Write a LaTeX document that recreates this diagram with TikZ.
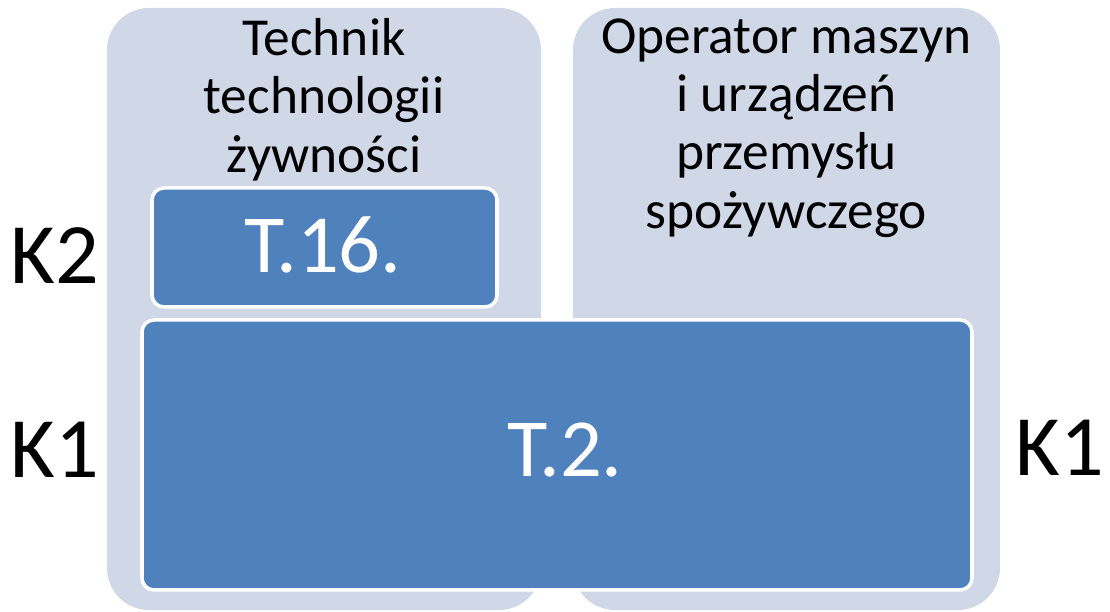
\documentclass[tikz,border=0pt]{standalone}
\usepackage{fontspec}
\setmainfont{Carlito}
\definecolor{panelgray}{RGB}{208,216,232}
\definecolor{boxblue}{RGB}{79,129,189}
\tikzset{
  panel/.style={fill=panelgray, rounded corners=0.42cm, minimum width=4.34cm, minimum height=6.02cm, inner sep=0pt},
  exam/.style={fill=boxblue, draw=white, line width=1pt, rounded corners=0.12cm, inner sep=0pt},
  examtext/.style={text=white, font=\fontsize{23.5}{27}\selectfont},
  title/.style={align=center, anchor=north, font=\fontsize{15.2}{16.6}\selectfont},
  level/.style={font=\fontsize{24.5}{28}\selectfont}
}
\begin{document}
\begin{tikzpicture}[x=1cm,y=1cm]
\useasboundingbox (0,0) rectangle (11.1,6.12);
\node[panel] (left) at (3.24,3.03) {};
\node[panel, minimum width=4.27cm] (right) at (7.865,3.03) {};
\node[title] (lefttitle) at (3.24,6.06) {Technik\\technologii\\żywności};
\node[title] (righttitle) at (7.865,6.06) {Operator maszyn\\i urządzeń\\przemysłu\\spożywczego};

\node[exam, minimum width=3.45cm, minimum height=1.19cm] (t16) at (3.245,3.645) {};
\node[examtext] (t16text) at (3.23,3.67) {T.16.};
\node[exam, minimum width=8.3cm, minimum height=2.7cm] (t2) at (5.57,1.57) {};
\node[examtext] (t2text) at (5.65,1.62) {T.2.};

\node[level] (k2) at (0.55,3.56) {K2};
\node[level] (k1left) at (0.55,1.62) {K1};
\node[level] (k1right) at (10.6,1.64) {K1};
\end{tikzpicture}
\end{document}
